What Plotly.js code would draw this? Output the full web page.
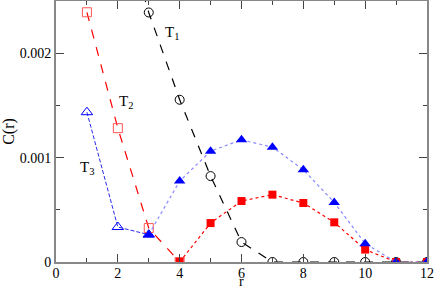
<!DOCTYPE html>
<html><head><meta charset="utf-8">
<script src="https://cdn.plot.ly/plotly-3.0.1.min.js"></script>
<style>html,body{margin:0;padding:0;background:#fff}#plot{width:436px;height:288px}</style>
</head><body><div id="plot"></div>
<script>
// T1 (black, open circles)
const t1X = [2, 3, 4, 5, 6, 7, 8, 9, 10, 11, 12];
const t1Y = [0.0034, 0.00239, 0.001554, 0.000823, 0.000191, 0, 0, 0, 0, 0, 0];
// T2 open squares (dashed) and filled squares (dotted)
const t2aX = [1, 2, 3, 4];
const t2aY = [0.002392, 0.001282, 0.000325, 0];
const t2bX = [4, 5, 6, 7, 8, 9, 10, 11, 12];
const t2bY = [0, 0.000373, 0.000584, 0.000645, 0.000565, 0.00038, 0.000119, 0, 0];
// T3 open triangles (dashed) and filled triangles (dotted)
const t3aX = [1, 2, 3];
const t3aY = [0.001435, 0.000335, 0.000262];
const t3bX = [3, 4, 5, 6, 7, 8, 9, 10, 11, 12];
const t3bY = [0.000262, 0.000775, 0.001062, 0.00117, 0.0011, 0.000884, 0.000571, 0.000176, 0, 0];
const xTicks = [0, 2, 4, 6, 8, 10, 12];
const yTicks = [0, 0.001, 0.002];
const yTickText = ['0', '0.001', '0.002'];
const xTitle = 'r';
const yTitle = 'C(r)';

const traces = [
  {x: t1X, y: t1Y, mode: 'lines+markers', line: {color: '#000', dash: 'dash', width: 1.2},
   marker: {symbol: 'circle-open', size: 9, color: '#000', line: {width: 1}}},
  {x: t3aX, y: t3aY, mode: 'lines+markers', line: {color: '#2a2ae8', dash: '4px,2px', width: 1},
   marker: {symbol: 'triangle-up-open', size: 10, color: '#0000ff', line: {width: 1}}},
  {x: t2aX, y: t2aY, mode: 'lines+markers', line: {color: '#ff0000', dash: 'dash', width: 1.2},
   marker: {symbol: 'square-open', size: 9, color: '#ff5555', line: {width: 1}}},
  {x: t2bX, y: t2bY, mode: 'lines+markers', line: {color: '#ff0000', dash: 'dot', width: 1.2},
   marker: {symbol: 'square', size: 8, color: '#ff0000'}},
  {x: t3bX, y: t3bY, mode: 'lines+markers', line: {color: '#8888ff', dash: 'dot', width: 1.2},
   marker: {symbol: 'triangle-up', size: 10, color: '#0000ff'}}
];

const fam = 'Liberation Serif, Times New Roman, serif';
const font = {family: fam, size: 14, color: '#000'};
const axisCommon = {
  showgrid: false, zeroline: false, showline: true, linecolor: '#888', linewidth: 2,
  mirror: 'allticks', ticks: 'inside', tickcolor: '#444', tickwidth: 1, ticklen: 8,
  tickfont: font
};

const layout = {
  width: 436, height: 288,
  margin: {l: 56, r: 9, t: 1, b: 26},
  paper_bgcolor: '#fff', plot_bgcolor: '#fff',
  showlegend: false,
  font: font,
  xaxis: Object.assign({}, axisCommon, {
    range: [0, 12], tickvals: xTicks, ticktext: xTicks.map(String),
    ticklabelstandoff: -3,
    minor: {dtick: 1, ticks: 'inside', ticklen: 4, tickcolor: '#444'}
  }),
  yaxis: Object.assign({}, axisCommon, {
    range: [0, 0.0025], tickvals: yTicks, ticktext: yTickText,
    minor: {dtick: 0.0005, ticks: 'inside', ticklen: 4, tickcolor: '#444'},
    title: {text: yTitle, font: {family: fam, size: 16}, standoff: 8}
  }),
  annotations: [
    {x: 6, y: 0, xref: 'x', yref: 'paper', yanchor: 'top', yshift: -11, borderpad: 0, text: xTitle, showarrow: false,
     font: {family: fam, size: 14}},
    {x: 3.76, y: 0.00219, xref: 'x', yref: 'y', text: 'T<sub>1</sub>', showarrow: false, font: {family: fam, size: 15}},
    {x: 2.27, y: 0.00153, xref: 'x', yref: 'y', text: 'T<sub>2</sub>', showarrow: false, font: {family: fam, size: 15}},
    {x: 1.0, y: 0.0009, xref: 'x', yref: 'y', text: 'T<sub>3</sub>', showarrow: false, font: {family: fam, size: 15}}
  ]
};

Plotly.newPlot('plot', traces, layout, {staticPlot: true, displayModeBar: false});
</script>
</body></html>
